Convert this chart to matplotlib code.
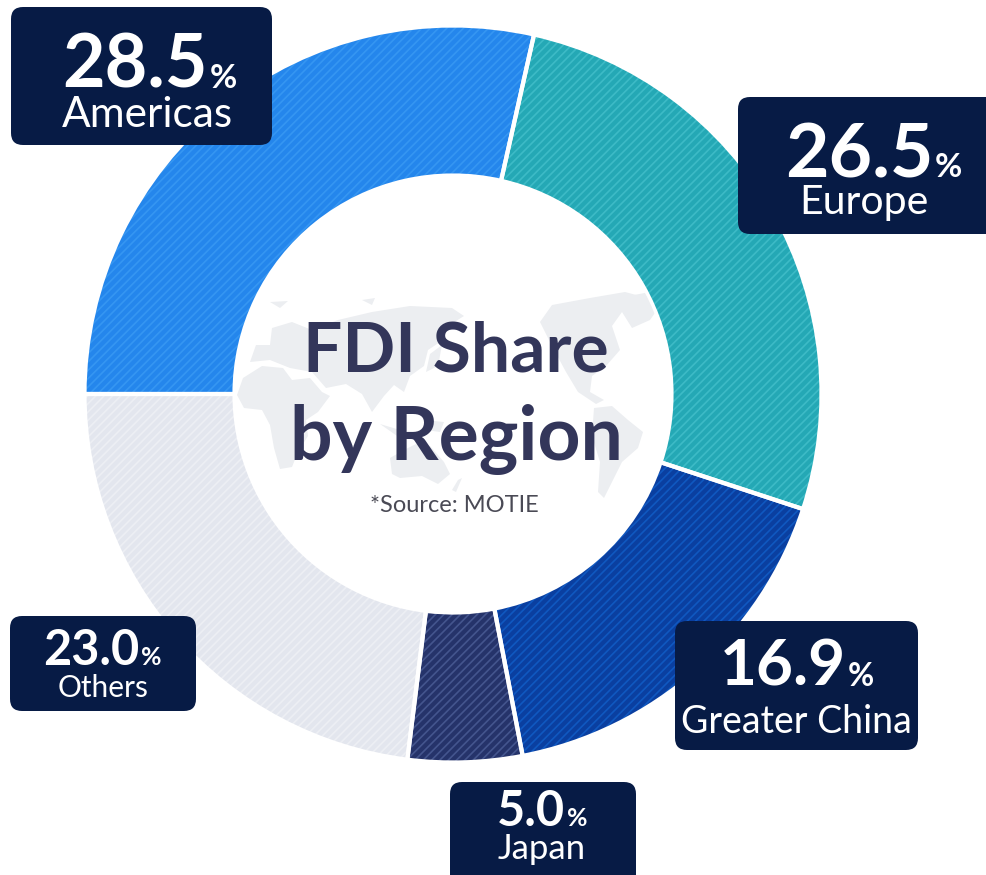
import matplotlib
matplotlib.use('Agg')
import matplotlib.pyplot as plt
import matplotlib.patches as patches

plt.rcParams['font.family'] = ['Lato', 'DejaVu Sans']
plt.rcParams['hatch.linewidth'] = 1.2

H = 875

regions = ['Americas', 'Europe', 'Greater China', 'Japan', 'Others']
shares = [28.5, 26.5, 16.9, 5.0, 23.0]
share_labels = ['28.5', '26.5', '16.9', '5.0', '23.0']
colors = ['#2486EC', '#24A8B5', '#0A3FA0', '#25336A', '#E3E6EE']
stripes = ['#3596F2', '#3DBBC6', '#1058C0', '#44558E', '#EDEFF4']

# x0, y0, x1, y1 (pixels), split x, number size, % size, name size, number base, name base, name x
boxes = [
    (11, 7, 272, 145, 208, 53, 24, 30.5, 88, 127, 147),
    (738, 97, 1000, 234, 933, 54, 24, 29.5, 177, 214, 864),
    (675, 621, 918, 750, 846, 46, 23, 27, 686, 733, 796),
    (450, 782, 636, 890, 565, 35, 18, 25, 826, 859, 542),
    (10, 616, 196, 711, 139, 35, 18, 21.5, 665, 697, 103),
]

# rough outline of the world map behind the title, pixels
land = [
    # Africa and Arabia
    [(237, 395), (243, 378), (262, 366), (283, 368), (292, 380), (310, 378), (322, 392), (330, 396), (318, 412),
     (306, 420), (308, 436), (298, 452), (292, 467), (280, 469), (274, 448), (270, 425), (262, 410), (244, 408)],
    # Europe and Asia
    [(250, 362), (256, 345), (270, 345), (272, 328), (292, 322), (312, 330), (338, 320), (372, 312), (410, 306), (452, 308),
     (464, 316), (448, 326), (440, 342), (428, 350), (424, 366), (410, 376), (404, 392), (394, 385), (384, 396), (372, 412),
     (362, 394), (346, 384), (326, 388), (312, 372), (290, 368), (270, 360)],
    # Greenland-side islands and Svalbard
    [(270, 302), (288, 301), (280, 308)],
    [(362, 300), (375, 298), (372, 305)],
    # Indonesia and Philippines
    [(380, 424), (400, 430), (418, 438), (400, 438)],
    [(424, 420), (444, 422), (440, 432), (426, 430)],
    # Japan
    [(430, 354), (442, 345), (438, 366), (426, 372)],
    # Australia and New Zealand
    [(390, 458), (404, 450), (416, 444), (430, 446), (444, 462), (450, 474), (438, 484), (422, 476), (400, 478), (392, 474)],
    [(458, 480), (462, 478), (456, 492), (452, 490)],
    # North America and Greenland
    [(540, 322), (552, 305), (590, 298), (625, 292), (640, 296), (622, 312), (612, 326), (620, 350), (606, 366), (592, 376),
     (590, 392), (604, 400), (596, 404), (578, 392), (566, 372), (552, 346)],
    [(618, 298), (650, 292), (664, 300), (650, 320), (632, 328), (622, 312)],
    # South America
    [(594, 408), (612, 406), (628, 420), (643, 432), (638, 448), (622, 462), (612, 482), (604, 498), (598, 492),
     (600, 462), (592, 436)],
]


def y_up(y):
    return H - y


fig = plt.figure(figsize=(9.87, 8.75), dpi=100)
ax = fig.add_axes([0, 0, 1, 1])

# hatched slices first, white separators on top
wedges, _ = ax.pie(shares, radius=368.5, center=(453, y_up(394)), startangle=180,
                   counterclock=False, colors=colors, normalize=True,
                   wedgeprops={'width': 150, 'linewidth': 0})
for w, s in zip(wedges, stripes):
    w.set_edgecolor(s)
    w.set_hatch('////')
    w.set_linewidth(0)
ax.pie(shares, radius=368.5, center=(453, y_up(394)), startangle=180,
       counterclock=False, colors=['none'] * 5, normalize=True,
       wedgeprops={'width': 150, 'linewidth': 3, 'edgecolor': 'white', 'facecolor': 'none'})

ax.set_xlim(0, 987)
ax.set_ylim(0, H)
ax.set_aspect('auto')
ax.axis('off')

# map stays inside the hole of the ring
hole = patches.Circle((453, y_up(394)), 217, transform=ax.transData)
for shape in land:
    p = patches.Polygon([(x, y_up(y)) for x, y in shape], closed=True,
                        fc='#ECEEF1', ec='none', zorder=3)
    ax.add_patch(p)
    p.set_clip_path(hole)

ax.text(456, y_up(371), 'FDI Share', fontsize=50, fontweight='bold', color='#33365A',
        ha='center', va='baseline', zorder=5)
ax.text(456, y_up(460), 'by Region', fontsize=54, fontweight='bold', color='#33365A',
        ha='center', va='baseline', zorder=5)
ax.text(454, y_up(512), '*Source: MOTIE', fontsize=17, color='#4A4A55',
        ha='center', va='baseline', zorder=5)

for name, label, b in zip(regions, share_labels, boxes):
    x0, y0, x1, y1, split, num_size, pct_size, name_size, num_y, name_y, name_x = b
    ax.add_patch(patches.FancyBboxPatch((x0 + 12, y_up(y1) + 12), x1 - x0 - 24, y1 - y0 - 24,
                                        boxstyle='round,pad=12,rounding_size=12',
                                        fc='#071B45', ec='none', zorder=6))
    ax.text(split, y_up(num_y), label, fontsize=num_size, fontweight='bold', color='white',
            ha='right', va='baseline', zorder=7)
    ax.text(split + 2, y_up(num_y), '%', fontsize=pct_size, fontweight='bold', color='white',
            ha='left', va='baseline', zorder=7)
    ax.text(name_x, y_up(name_y), name, fontsize=name_size, color='white',
            ha='center', va='baseline', zorder=7)

fig.savefig('out.png', dpi=100, facecolor='white')
